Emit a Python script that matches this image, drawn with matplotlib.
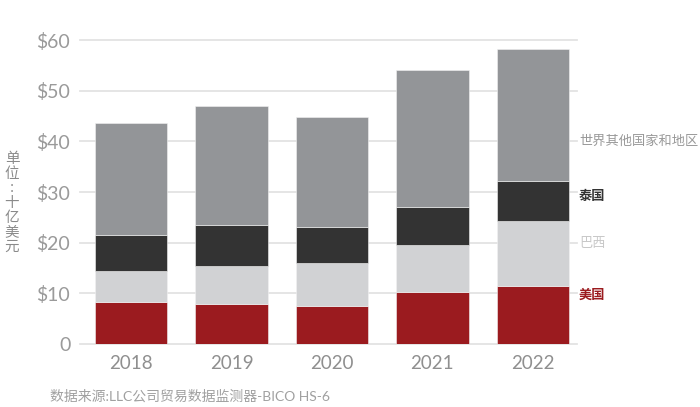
import numpy as np
import matplotlib.pyplot as plt

# 数据 (十亿美元)
years = ["2018", "2019", "2020", "2021", "2022"]
usa = [8.2, 7.8, 7.5, 10.3, 11.4]
brazil = [6.3, 7.5, 8.4, 9.2, 12.9]
thailand = [7.1, 8.2, 7.2, 7.6, 7.9]
rest = [22.0, 23.5, 21.8, 26.9, 26.1]

series_names = ["美国", "巴西", "泰国", "世界其他国家和地区"]
series_colors = ["#9b1b1f", "#d1d2d4", "#333333", "#939598"]
label_y = [9.8, 19.8, 29.2, 40.0]
label_colors = ["#9b1b1f", "#c8c8c8", "#333333", "#999999"]
label_weights = ["bold", "normal", "bold", "normal"]

yticks = [0, 10, 20, 30, 40, 50, 60]
ytick_labels = ["0", "$10", "$20", "$30", "$40", "$50", "$60"]

cjk = ["Noto Sans CJK SC", "DejaVu Sans"]
latin = ["Lato", "Noto Sans CJK SC", "DejaVu Sans"]

fig = plt.figure(figsize=(7, 4.07), dpi=100)
ax = fig.add_axes([80 / 700, 1 - 344 / 407, 497 / 700, 304 / 407])

x = np.arange(len(years))
bottom = np.zeros(len(years))
for vals, col in zip([usa, brazil, thailand, rest], series_colors):
    ax.bar(x, vals, 0.72, bottom=bottom, color=col, zorder=3,
           edgecolor="#f2f2f2", linewidth=0.4)
    bottom += np.array(vals)

ax.set_xlim(-0.51, 4.44)
ax.set_ylim(0, 60)
ax.set_yticks(yticks)
ax.set_yticklabels(ytick_labels, family=latin, fontsize=14, color="#9a9a9a")
ax.set_xticks(x)
ax.set_xticklabels(years, family=latin, fontsize=13.5, color="#8f8f8f")
ax.tick_params(axis="both", length=0)
ax.tick_params(axis="y", pad=7)
ax.tick_params(axis="x", pad=8)
for s in ax.spines.values():
    s.set_visible(False)
ax.grid(axis="y", color="#e3e3e3", linewidth=1.3, zorder=0, clip_on=False)
ax.set_axisbelow(True)

# 右侧标签
for name, yv, col, w in zip(series_names, label_y, label_colors, label_weights):
    ax.text(1.004, yv, name, transform=ax.get_yaxis_transform(), family=cjk,
            fontsize=9.5, color=col, fontweight=w, va="center", ha="left")

# 纵轴单位
fig.text(12 / 700, 1 - 203 / 407, "\n".join("单位:十亿美元"), family=cjk,
         fontsize=10.5, color="#8a8a8a", ha="center", va="center",
         linespacing=1.05)

# 数据来源
fig.text(50 / 700, 1 - 396 / 407, "数据来源:LLC公司贸易数据监测器-BICO HS-6",
         family=latin, fontsize=10, color="#a0a0a0", ha="left", va="center")

fig.savefig("out.png", dpi=100)
